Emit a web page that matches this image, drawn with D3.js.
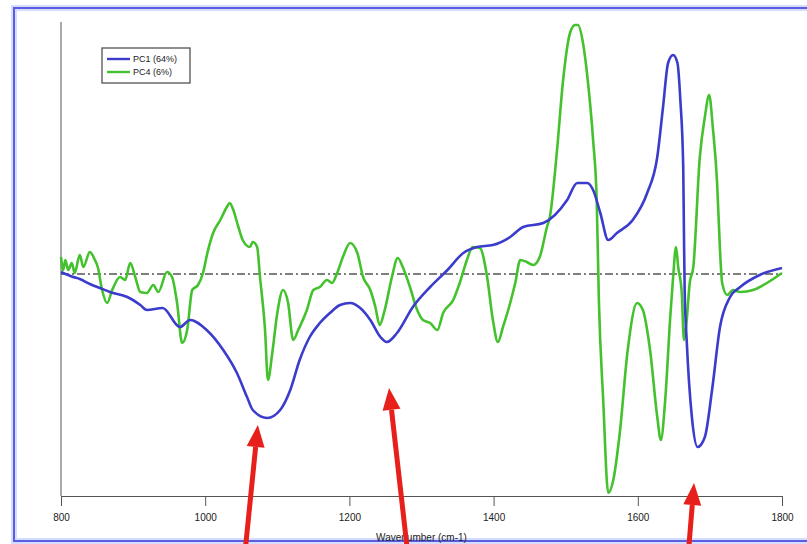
<!DOCTYPE html>
<html>
<head>
<meta charset="utf-8">
<script src="https://cdn.jsdelivr.net/npm/d3@7"></script>
<style>
  body { margin: 0; background: #fff; }
  svg { display: block; font-family: "Liberation Sans Narrow", "Liberation Sans", Arial, sans-serif; }
  .axis path, .axis line { stroke: #555; }
  .axis text { fill: #222; font-size: 10px; }
</style>
</head>
<body>
<svg id="chart" width="807" height="544"></svg>
<script>
// PC loadings
const pc1Wn = [800, 817, 826, 840, 854, 868, 892, 910, 919, 941, 965, 979, 1002, 1025, 1044, 1058, 1066, 1086,
  1104, 1118, 1131, 1145, 1159, 1173, 1187, 1201, 1215, 1229, 1243, 1252, 1266, 1288, 1312, 1336, 1358, 1377,
  1399, 1423, 1441, 1469, 1502, 1516, 1530, 1538, 1548, 1559, 1571, 1593, 1613, 1627, 1635, 1642, 1649, 1655,
  1659, 1663, 1664, 1665, 1668, 1675, 1683, 1693, 1703, 1714, 1728, 1742, 1769, 1800];
const pc1Val = [0.002, -0.003, -0.005, -0.010, -0.014, -0.018, -0.023, -0.031, -0.036, -0.034, -0.053, -0.046,
  -0.056, -0.076, -0.099, -0.123, -0.136, -0.144, -0.136, -0.116, -0.086, -0.063, -0.049, -0.039, -0.031, -0.029,
  -0.034, -0.046, -0.063, -0.068, -0.059, -0.033, -0.013, 0.004, 0.021, 0.027, 0.029, 0.037, 0.047, 0.051, 0.074,
  0.091, 0.091, 0.084, 0.061, 0.034, 0.041, 0.054, 0.081, 0.117, 0.167, 0.211, 0.219, 0.211, 0.174, 0.107, 0.041,
  -0.016, -0.069, -0.143, -0.173, -0.163, -0.116, -0.053, -0.023, -0.013, -0.001, 0.006];

const pc4Wn = [800, 803, 806, 810, 815, 819, 826, 831, 840, 847, 851, 857, 864, 871, 882, 889, 896, 903, 910, 919,
  928, 935, 947, 954, 961, 968, 975, 982, 990, 997, 1003, 1011, 1021, 1030, 1034, 1039, 1046, 1052, 1062, 1066,
  1072, 1076, 1083, 1087, 1093, 1100, 1108, 1115, 1122, 1129, 1141, 1150, 1159, 1169, 1176, 1183, 1191, 1201,
  1211, 1219, 1229, 1236, 1242, 1249, 1259, 1267, 1274, 1284, 1294, 1302, 1312, 1322, 1330, 1344, 1353, 1363,
  1371, 1381, 1391, 1399, 1406, 1413, 1423, 1430, 1437, 1446, 1455, 1464, 1474, 1478, 1488, 1496, 1506, 1513,
  1517, 1524, 1531, 1538, 1543, 1546, 1552, 1559, 1566, 1575, 1586, 1599, 1607, 1617, 1627, 1632, 1638, 1645,
  1649, 1653, 1656, 1661, 1664, 1667, 1672, 1677, 1686, 1693, 1699, 1704, 1710, 1714, 1717, 1724, 1732, 1742,
  1760, 1779, 1800];
const pc4Val = [0.017, 0.004, 0.014, 0.004, 0.011, 0.001, 0.019, 0.007, 0.022, 0.014, 0.007, -0.016, -0.029,
  -0.016, -0.003, -0.006, 0.011, -0.003, -0.018, -0.019, -0.011, -0.018, 0.002, -0.003, -0.029, -0.069, -0.056,
  -0.016, -0.011, 0.001, 0.021, 0.041, 0.054, 0.067, 0.071, 0.064, 0.047, 0.034, 0.027, 0.032, 0.027, -0.003,
  -0.056, -0.106, -0.079, -0.039, -0.016, -0.029, -0.066, -0.056, -0.036, -0.016, -0.013, -0.006, -0.009, 0.001,
  0.017, 0.031, 0.021, -0.003, -0.016, -0.033, -0.051, -0.036, -0.003, 0.016, 0.007, -0.013, -0.036, -0.046,
  -0.049, -0.056, -0.039, -0.026, -0.009, 0.014, 0.027, 0.026, -0.003, -0.046, -0.068, -0.053, -0.029, -0.009,
  0.014, 0.012, 0.009, 0.017, 0.047, 0.057, 0.124, 0.191, 0.241, 0.249, 0.249, 0.231, 0.191, 0.134, 0.074,
  -0.026, -0.126, -0.219, -0.206, -0.159, -0.076, -0.029, -0.036, -0.076, -0.143, -0.166, -0.126, -0.043, -0.003,
  0.027, 0.007, -0.019, -0.066, -0.053, -0.009, 0.007, 0.117, 0.157, 0.179, 0.147, 0.091, 0.024, -0.009, -0.021,
  -0.016, -0.018, -0.016, -0.009, 0.001];

const tickValues = [800, 1000, 1200, 1400, 1600, 1800];
const seriesNames = ["PC1 (64%)", "PC4 (6%)"];
const seriesColors = ["#3b3bcc", "#44c22e"];

// arrows: tip [wavenumber, loading] and tail [wavenumber, loading]
const arrowTips = [[1073, -0.151], [1255, -0.114], [1678, -0.209]];
const arrowTails = [[1055, -0.280], [1281, -0.280], [1670, -0.280]];

const svg = d3.select("#chart");
const margin = { top: 22, right: 25, bottom: 48, left: 61 };
const width = 807 - margin.left - margin.right;
const height = 544 - margin.top - margin.bottom;

// outer frame
svg.append("rect").attr("x", 14).attr("y", 8).attr("width", 800).attr("height", 533)
  .attr("fill", "none").attr("stroke", "#d4dcff").attr("stroke-width", 6);
svg.append("rect").attr("x", 14).attr("y", 8).attr("width", 800).attr("height", 533)
  .attr("fill", "none").attr("stroke", "#5c5ce0").attr("stroke-width", 2);

const g = svg.append("g").attr("transform", `translate(${margin.left},${margin.top})`);

const x = d3.scaleLinear().domain([800, 1800]).range([0, width]);
const y = d3.scaleLinear().domain([-0.222, 0.252]).range([height, 0]);

// axes
g.append("g").attr("class", "axis")
  .attr("transform", `translate(0,${height})`)
  .call(d3.axisBottom(x).tickValues(tickValues).tickSize(10).tickPadding(8).tickSizeOuter(0).tickFormat(d3.format("d")));
g.append("line").attr("x1", 0).attr("x2", 0).attr("y1", 0).attr("y2", height)
  .attr("stroke", "#555");

g.append("text").attr("x", width / 2).attr("y", height + 45)
  .attr("text-anchor", "middle").attr("font-size", 10).attr("fill", "#222")
  .text("Wavenumber (cm-1)");

// zero line
g.append("line").attr("x1", 0).attr("x2", width).attr("y1", y(0)).attr("y2", y(0))
  .attr("stroke", "#555").attr("stroke-width", 1.5).attr("stroke-dasharray", "8,3,2,3");

const line = d3.line().x(d => x(d[0])).y(d => y(d[1])).curve(d3.curveMonotoneX);

const pc1 = pc1Wn.map((w, i) => [w, pc1Val[i]]);
const pc4 = pc4Wn.map((w, i) => [w, pc4Val[i]]);

g.append("path").datum(pc4).attr("d", line)
  .attr("fill", "none").attr("stroke", seriesColors[1]).attr("stroke-width", 2.6).attr("stroke-linejoin", "round");
g.append("path").datum(pc1).attr("d", line)
  .attr("fill", "none").attr("stroke", seriesColors[0]).attr("stroke-width", 2.6).attr("stroke-linejoin", "round");

// legend
const legend = svg.append("g").attr("transform", "translate(102,48)");
legend.append("rect").attr("width", 88).attr("height", 35)
  .attr("fill", "#fff").attr("stroke", "#444").attr("stroke-width", 1.2);
seriesNames.forEach((name, i) => {
  legend.append("line").attr("x1", 5).attr("x2", 28).attr("y1", 11 + i * 13).attr("y2", 11 + i * 13)
    .attr("stroke", seriesColors[i]).attr("stroke-width", 2.4);
  legend.append("text").attr("x", 31).attr("y", 11 + i * 13).attr("dy", "0.35em")
    .attr("font-size", 9).attr("fill", "#222").text(name);
});

// red arrows
const arrowLayer = g.append("g");
arrowTips.forEach((tip, i) => {
  const tail = arrowTails[i];
  const tx = x(tip[0]), ty = y(tip[1]);
  const bx = x(tail[0]), by = y(tail[1]);
  const ang = Math.atan2(ty - by, tx - bx);
  const headLen = 22, headHalf = 9;
  const hx = tx - headLen * Math.cos(ang), hy = ty - headLen * Math.sin(ang);
  arrowLayer.append("line").attr("x1", bx).attr("y1", by).attr("x2", hx).attr("y2", hy)
    .attr("stroke", "#e8201c").attr("stroke-width", 5);
  const px = -Math.sin(ang), py = Math.cos(ang);
  arrowLayer.append("path")
    .attr("d", `M${tx},${ty}L${hx + px * headHalf},${hy + py * headHalf}L${hx - px * headHalf},${hy - py * headHalf}Z`)
    .attr("fill", "#e8201c");
});
</script>
</body>
</html>
